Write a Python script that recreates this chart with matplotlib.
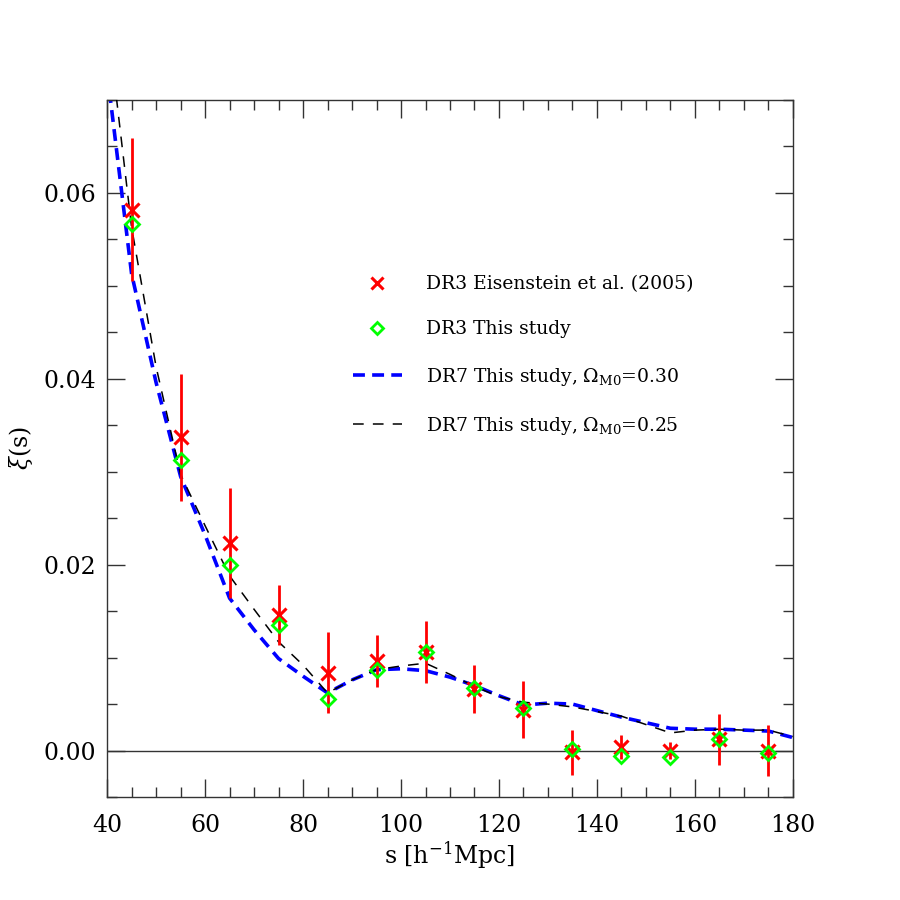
import numpy as np
import matplotlib
matplotlib.use("Agg")
import matplotlib.pyplot as plt
from matplotlib.lines import Line2D
from matplotlib.ticker import MultipleLocator

plt.rcParams['font.family'] = ['DejaVu Serif']
plt.rcParams['mathtext.fontset'] = 'dejavuserif'

# DR3 Eisenstein et al. (2005)
s_bins = [45, 55, 65, 75, 85, 95, 105, 115, 125, 135, 145, 155, 165, 175]
xi_eis = [0.0582, 0.0337, 0.0223, 0.0146, 0.0084, 0.0096, 0.0106,
          0.0066, 0.0044, -0.0002, 0.0004, 0.0000, 0.0012, 0.0000]
err_eis = [0.0077, 0.0068, 0.0059, 0.0032, 0.0044, 0.0028, 0.0033,
           0.0026, 0.0031, 0.0024, 0.0013, 0.0009, 0.0027, 0.0027]

# DR3 this study
xi_dr3 = [0.0567, 0.0313, 0.0200, 0.0135, 0.0056, 0.0087, 0.0106,
          0.0067, 0.0046, 0.0002, -0.0006, -0.0007, 0.0012, -0.0003]

# DR7 this study
s_line = [40, 45, 50, 55, 60, 65, 70, 75, 80, 85, 90, 95, 100, 105, 110,
          115, 120, 125, 130, 135, 140, 145, 150, 155, 160, 165, 170, 175, 180]
xi_dr7_030 = [0.0730, 0.0513, 0.0396, 0.0295, 0.0232, 0.0164, 0.0130, 0.0099,
              0.0080, 0.0062, 0.0076, 0.0087, 0.0088, 0.0086, 0.0079, 0.0070,
              0.0059, 0.0049, 0.0051, 0.0050, 0.0043, 0.0036, 0.0030, 0.0024,
              0.0023, 0.0023, 0.0022, 0.0021, 0.0014]
xi_dr7_025 = [0.0788, 0.0563, 0.0413, 0.0297, 0.0242, 0.0188, 0.0152, 0.0117,
              0.0092, 0.0062, 0.0076, 0.0087, 0.0091, 0.0094, 0.0082, 0.0069,
              0.0058, 0.0052, 0.0050, 0.0047, 0.0042, 0.0037, 0.0028, 0.0019,
              0.0022, 0.0023, 0.0022, 0.0022, 0.0015]

blue_dash = (0, (3.3, 2.0))
black_dash = (0, (7, 6))

fig = plt.figure(figsize=(9, 9), dpi=100)
ax = fig.add_axes([0.119, 0.1144, 0.762, 0.7745])

ax.axhline(0.0, color='#333333', lw=1.0, zorder=1)

ax.plot(s_line, xi_dr7_030, color='#0000ff', lw=2.6, ls=blue_dash, zorder=2)
ax.plot(s_line, xi_dr7_025, color='black', lw=1.1, ls=black_dash, zorder=3)

ax.errorbar(s_bins, xi_eis, yerr=err_eis, fmt='none', ecolor='#ff0000',
            elinewidth=2.0, capsize=0, zorder=4)
ax.plot(s_bins, xi_eis, ls='none', marker='x', ms=10, mew=2.2,
        color='#ff0000', zorder=5)
ax.plot(s_bins, xi_dr3, ls='none', marker='D', ms=7, mew=2.0,
        mfc='none', mec='#00ff00', zorder=6)

ax.set_xlim(40, 180)
ax.set_ylim(-0.005, 0.07)
ax.xaxis.set_major_locator(MultipleLocator(20))
ax.xaxis.set_minor_locator(MultipleLocator(5))
ax.yaxis.set_major_locator(MultipleLocator(0.02))
ax.yaxis.set_minor_locator(MultipleLocator(0.005))
ax.yaxis.set_major_formatter(matplotlib.ticker.FormatStrFormatter('%.2f'))

ax.tick_params(which='both', direction='in', top=True, right=True,
               color='#333333')
ax.tick_params(which='major', length=13, width=1.0, labelsize=17)
ax.tick_params(which='minor', length=7, width=1.0)
ax.tick_params(axis='x', which='major', pad=12)
ax.tick_params(axis='y', which='major', pad=8)
for sp in ax.spines.values():
    sp.set_color('#333333')
    sp.set_linewidth(1.0)

ax.set_xlabel(r's [h$^{-1}$Mpc]', fontsize=17, labelpad=2)
ax.set_ylabel(r'$\xi$(s)', fontsize=17, labelpad=6)

handles = [
    Line2D([], [], ls='none', marker='x', ms=8, mew=2.2, color='#ff0000'),
    Line2D([], [], ls='none', marker='D', ms=6, mew=2.0, mfc='none', mec='#00ff00'),
    Line2D([], [], color='#0000ff', lw=2.6, ls=blue_dash),
    Line2D([], [], color='black', lw=1.1, ls=black_dash),
]
labels = ['DR3 Eisenstein et al. (2005)',
          'DR3 This study',
          r'DR7 This study, $\Omega_{\rm M0}$=0.30',
          r'DR7 This study, $\Omega_{\rm M0}$=0.25']
ax.legend(handles, labels, loc='upper left', bbox_to_anchor=(0.345, 0.762),
          frameon=False, fontsize=13.5, handlelength=2.6, handletextpad=1.3,
          labelspacing=1.45, borderpad=0)

fig.savefig('out.png', dpi=100)
